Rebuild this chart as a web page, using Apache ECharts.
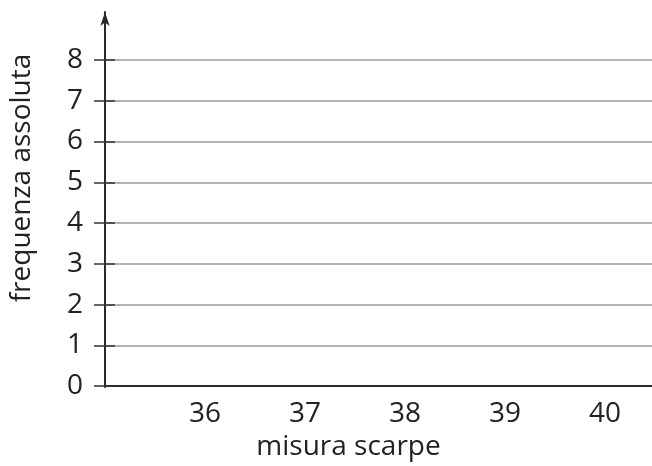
<!DOCTYPE html>
<html>
<head>
<meta charset="utf-8">
<script src="https://cdn.jsdelivr.net/npm/echarts@6/dist/echarts.min.js"></script>
<style>html,body{margin:0;padding:0;background:#fff}#c{width:652px;height:466px}</style>
</head>
<body>
<div id="c"></div>
<script>
var xCategories = [36, 37, 38, 39, 40];
var yTicks = [0, 1, 2, 3, 4, 5, 6, 7, 8];
var frequencies = [];
var xName = 'misura scarpe';
var yName = 'frequenza assoluta';

var font = 'Open Sans';
var fs = 28;
var chart = echarts.init(document.getElementById('c'));
chart.setOption({
  animation: false,
  grid: [
    {left: 105, right: 0, top: 60, bottom: 79},
    {left: 105, right: 0, top: 12, bottom: 79},
    {left: 105, right: 0, top: 12, bottom: 122}
  ],
  xAxis: [
    {gridIndex: 0, type: 'value', min: 35, max: 40.47, interval: 1,
     axisLine: {show: true, lineStyle: {color: '#2a2a2a', width: 2}},
     axisTick: {show: false}, splitLine: {show: false},
     axisLabel: {color: '#222', fontFamily: font, fontSize: fs, margin: 14,
       showMinLabel: false, showMaxLabel: false,
       formatter: function (v) { return xCategories.indexOf(v) >= 0 ? String(v) : ''; }},
     name: xName, nameLocation: 'middle', nameGap: 46,
     nameTextStyle: {color: '#222', fontFamily: font, fontSize: fs, padding: [0, 60, 0, 0]}},
    {gridIndex: 1, type: 'value', min: 35, max: 40.47, show: false},
    {gridIndex: 2, type: 'value', min: 35, max: 40.47, show: false}
  ],
  yAxis: [
    {gridIndex: 0, type: 'value', min: 0, max: 8, interval: 1,
     axisLine: {show: false},
     axisTick: {show: true, length: 11, lineStyle: {color: '#333', width: 1.5}},
     splitLine: {show: true, lineStyle: {color: '#9a9a9a', width: 1.5}},
     axisLabel: {color: '#222', fontFamily: font, fontSize: fs, margin: 22}},
    {gridIndex: 0, type: 'value', min: 0, max: 8, interval: 1, position: 'left',
     axisLine: {show: false},
     axisTick: {show: true, inside: true, length: 10, lineStyle: {color: '#333', width: 1.5}},
     splitLine: {show: false}, axisLabel: {show: false}},
    {gridIndex: 1, type: 'value', min: 0, max: 9,
     axisLine: {show: true, symbol: ['none', 'arrow'], symbolSize: [7, 14], symbolOffset: [0, 0],
       lineStyle: {color: '#2a2a2a', width: 2}},
     axisTick: {show: false}, splitLine: {show: false}, axisLabel: {show: false}},
    {gridIndex: 2, type: 'value', min: 0, max: 1,
     axisLine: {show: false}, axisTick: {show: false}, splitLine: {show: false}, axisLabel: {show: false},
     name: yName, nameLocation: 'middle', nameGap: 83,
     nameTextStyle: {color: '#222', fontFamily: font, fontSize: fs}}
  ],
  series: [
    {type: 'bar', xAxisIndex: 0, yAxisIndex: 0,
     data: frequencies.map(function (f, i) { return [xCategories[i], f]; })}
  ]
});
</script>
</body>
</html>
